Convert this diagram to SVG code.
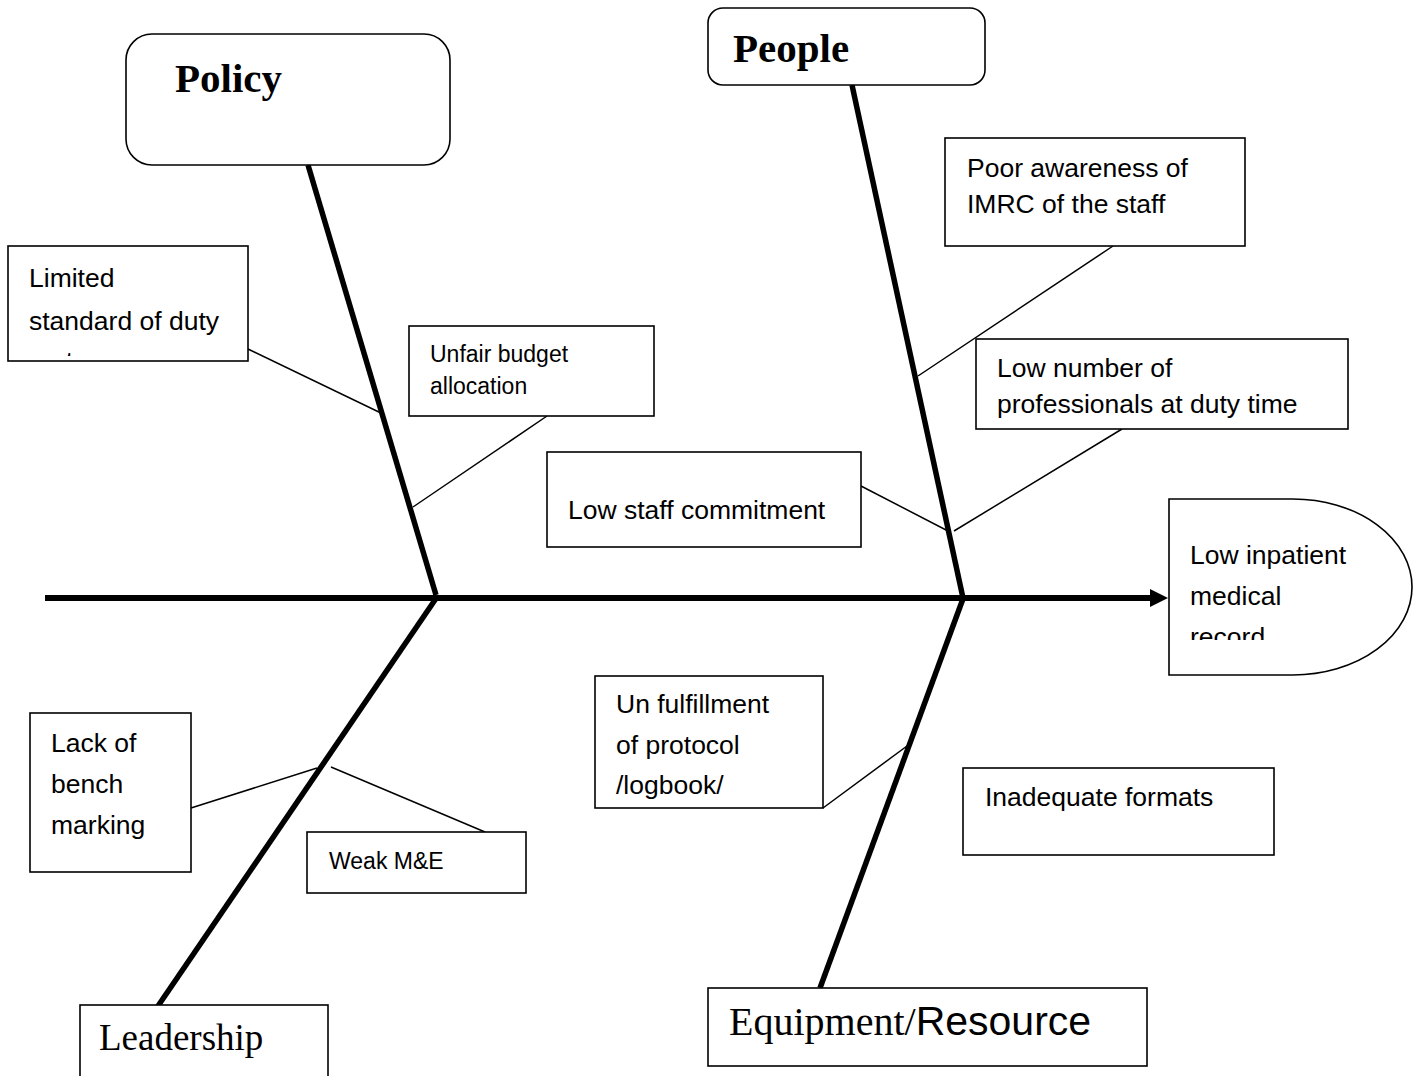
<svg xmlns="http://www.w3.org/2000/svg" width="1423" height="1076" viewBox="0 0 1423 1076">
<style>
.box{fill:#fff;stroke:#000;stroke-width:1.6}
.bone{stroke:#000;stroke-width:5.5;fill:none;stroke-linecap:butt}
.thin{stroke:#000;stroke-width:1.5;fill:none}
.t{font-family:"Liberation Sans",Arial,sans-serif;font-size:26.5px;fill:#000}
.s{font-family:"Liberation Sans",Arial,sans-serif;font-size:23px;fill:#000}
.h{font-family:"Liberation Serif","Times New Roman",serif;font-size:41px;font-weight:bold;fill:#000}
.r{font-family:"Liberation Serif","Times New Roman",serif;font-size:37px;fill:#000}
</style>
<defs>
<clipPath id="cLim"><rect x="9" y="247" width="238" height="109"/></clipPath>
<clipPath id="cEff"><rect x="1170" y="500" width="243" height="140"/></clipPath>
<clipPath id="cUn"><rect x="596" y="677" width="226" height="123"/></clipPath>
</defs>

<rect width="1423" height="1076" fill="#fff"/>

<g id="connectors">
<line class="bone" x1="45" y1="598" x2="1150" y2="598" style="stroke-width:6"/>
<path d="M1150,589 L1168,598 L1150,607 Z" fill="#000"/>
<line class="bone" x1="308" y1="165" x2="436" y2="595"/>
<line class="bone" x1="852" y1="85" x2="963" y2="598"/>
<line class="bone" x1="437" y1="597" x2="158" y2="1006"/>
<line class="bone" x1="964" y1="596" x2="820" y2="988"/>
<line class="thin" x1="248" y1="349" x2="383" y2="414"/>
<line class="thin" x1="547" y1="416" x2="413" y2="507"/>
<line class="thin" x1="1113" y1="246" x2="918" y2="376"/>
<line class="thin" x1="1122" y1="429" x2="954" y2="531"/>
<line class="thin" x1="861" y1="486" x2="948" y2="531"/>
<line class="thin" x1="823" y1="808" x2="907" y2="746"/>
<line class="thin" x1="191" y1="808" x2="317" y2="768"/>
<line class="thin" x1="331" y1="767" x2="485" y2="832"/>
</g>

<g id="policy">
<rect class="box" x="126" y="34" width="324" height="131" rx="26" ry="26"/>
<text class="h" x="175" y="92">Policy</text>
</g>

<g id="people">
<rect class="box" x="708" y="8" width="277" height="77" rx="15" ry="15"/>
<text class="h" x="733" y="62">People</text>
</g>

<g id="limited">
<rect class="box" x="8" y="246" width="240" height="115"/>
<g clip-path="url(#cLim)">
<text class="t" x="29" y="287">Limited</text>
<text class="t" x="29" y="330">standard of duty</text>
<text class="t" x="29" y="370">roster</text>
</g>
</g>

<g id="unfair">
<rect class="box" x="409" y="326" width="245" height="90"/>
<text class="s" x="430" y="362">Unfair budget</text>
<text class="s" x="430" y="394">allocation</text>
</g>

<g id="poor">
<rect class="box" x="945" y="138" width="300" height="108"/>
<text class="t" x="967" y="177">Poor awareness of</text>
<text class="t" x="967" y="213">IMRC of the staff</text>
</g>

<g id="lownumber">
<rect class="box" x="976" y="339" width="372" height="90"/>
<text class="t" x="997" y="377">Low number of</text>
<text class="t" x="997" y="413">professionals at duty time</text>
</g>

<g id="lowstaff">
<rect class="box" x="547" y="452" width="314" height="95"/>
<text class="t" x="568" y="519">Low staff commitment</text>
</g>

<g id="effect">
<path class="box" d="M1169,499 H1293 A119,88 0 0 1 1293,675 H1169 Z"/>
<g clip-path="url(#cEff)">
<text class="t" x="1190" y="564">Low inpatient</text>
<text class="t" x="1190" y="605">medical</text>
<text class="t" x="1190" y="646">record</text>
</g>
</g>

<g id="unfulfillment">
<rect class="box" x="595" y="676" width="228" height="132"/>
<g clip-path="url(#cUn)">
<text class="t" x="616" y="713">Un fulfillment</text>
<text class="t" x="616" y="754">of protocol</text>
<text class="t" x="616" y="794">/logbook/</text>
</g>
</g>

<g id="inadequate">
<rect class="box" x="963" y="768" width="311" height="87"/>
<text class="t" x="985" y="806">Inadequate formats</text>
</g>

<g id="lackof">
<rect class="box" x="30" y="713" width="161" height="159"/>
<text class="t" x="51" y="752">Lack of</text>
<text class="t" x="51" y="793">bench</text>
<text class="t" x="51" y="834">marking</text>
</g>

<g id="weak">
<rect class="box" x="307" y="832" width="219" height="61"/>
<text class="s" x="329" y="869">Weak M&amp;E</text>
</g>

<g id="leadership">
<rect class="box" x="80" y="1005" width="248" height="90"/>
<text class="r" x="99" y="1050">Leadership</text>
</g>

<g id="equipment">
<rect class="box" x="708" y="988" width="439" height="78"/>
<text x="729" y="1035" style="fill:#000"><tspan font-size="40" font-family="'Liberation Serif','Times New Roman',serif">Equipment/</tspan><tspan font-size="41" font-family="'Liberation Sans',Arial,sans-serif">Resource</tspan></text>
</g>
</svg>
